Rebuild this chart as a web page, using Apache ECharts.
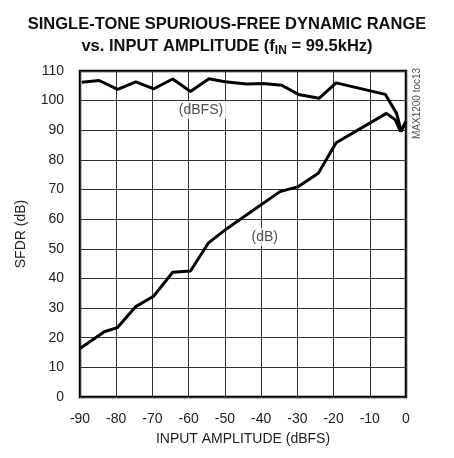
<!DOCTYPE html>
<html><head><meta charset="utf-8">
<script src="https://cdn.jsdelivr.net/npm/echarts@6/dist/echarts.min.js"></script>
<style>html,body{margin:0;padding:0;background:#fff}#c{width:454px;height:458px}</style>
</head><body><div id="c"></div>
<script>
const xTicks = [-90,-80,-70,-60,-50,-40,-30,-20,-10,0];
const yTicks = [0,10,20,30,40,50,60,70,80,90,100,110];
const dbfsX = [-89.5,-84.7,-79.6,-74.6,-69.6,-64.4,-59.5,-54.4,-50,-44,-39.4,-34.3,-29.7,-24,-19.3,-5.7,-2.6,-1.3,0];
const dbfsY = [106.2,106.8,103.8,106.3,104,107.3,103.1,107.4,106.4,105.6,105.8,105.2,102.1,100.8,106,102.1,95.7,89.6,93];
const dbX = [-90,-83.3,-79.7,-74.6,-69.6,-64.4,-59.5,-54.6,-49.5,-34.8,-29.7,-24.2,-19.3,-5.4,-3,-1.5,0];
const dbY = [16.4,22,23.4,30.5,34.1,42.1,42.5,51.9,56.8,69.3,71,75.5,85.8,95.7,93.6,89.6,93];
const curveLabels = ['(dBFS)','(dB)'];
const curveLabelX = [-56.6,-39];
const curveLabelY = [96.8,54];

const FONT = '"Liberation Sans Narrow","Liberation Sans",Arial,sans-serif';
const chart = echarts.init(document.getElementById('c'));
chart.setOption({
  animation:false,
  backgroundColor:'#fff',
  title:{
    text:'{t|SINGLE-TONE SPURIOUS-FREE DYNAMIC RANGE}\n{t|vs. INPUT AMPLITUDE (f}{s|IN}{t| = 99.5kHz)}',
    left:'center', top:8,
    textStyle:{rich:{
      t:{fontFamily:FONT,fontWeight:'bold',fontSize:16.5,color:'#111',lineHeight:22},
      s:{fontFamily:FONT,fontWeight:'bold',fontSize:12,color:'#111',lineHeight:22,verticalAlign:'bottom',padding:[6,0,0,0]}
    }}
  },
  grid:{left:80,top:71,right:48,bottom:61,show:true,borderColor:'#000',borderWidth:2.5,backgroundColor:'transparent'},
  xAxis:{
    type:'value',min:-90,max:0,interval:10,
    name:'INPUT AMPLITUDE (dBFS)',nameLocation:'middle',nameGap:35,
    nameTextStyle:{fontFamily:FONT,fontSize:14,color:'#222'},
    axisLine:{show:false},axisTick:{show:false},
    axisLabel:{fontFamily:FONT,fontSize:14,color:'#222',margin:15,formatter:v=>xTicks.includes(v)?String(v):''},
    splitLine:{show:true,lineStyle:{color:'#333',width:1}}
  },
  yAxis:{
    type:'value',min:0,max:110,interval:10,
    name:'SFDR (dB)',nameLocation:'middle',nameGap:52,
    nameTextStyle:{fontFamily:FONT,fontSize:14,color:'#222'},
    axisLine:{show:false},axisTick:{show:false},
    axisLabel:{fontFamily:FONT,fontSize:14,color:'#222',margin:16,formatter:v=>yTicks.includes(v)?String(v):''},
    splitLine:{show:true,lineStyle:{color:'#333',width:1}}
  },
  graphic:[{
    type:'text',x:412,y:139,rotation:Math.PI/2,
    style:{text:'MAX1200 toc13',font:'10px '+FONT,fill:'#555'}
  }],
  series:[
    {type:'line',data:dbfsX.map((x,i)=>[x,dbfsY[i]]),symbol:'none',lineStyle:{color:'#000',width:3},z:5},
    {type:'line',data:dbX.map((x,i)=>[x,dbY[i]]),symbol:'none',lineStyle:{color:'#000',width:3},z:5},
    {type:'scatter',symbolSize:0,z:6,
     data:curveLabels.map((n,i)=>({value:[curveLabelX[i],curveLabelY[i]],name:n})),
     label:{show:true,position:'inside',formatter:p=>p.name,fontFamily:FONT,fontSize:14,color:'#222',backgroundColor:'#fff',padding:[2,4]}}
  ]
});
</script></body></html>
